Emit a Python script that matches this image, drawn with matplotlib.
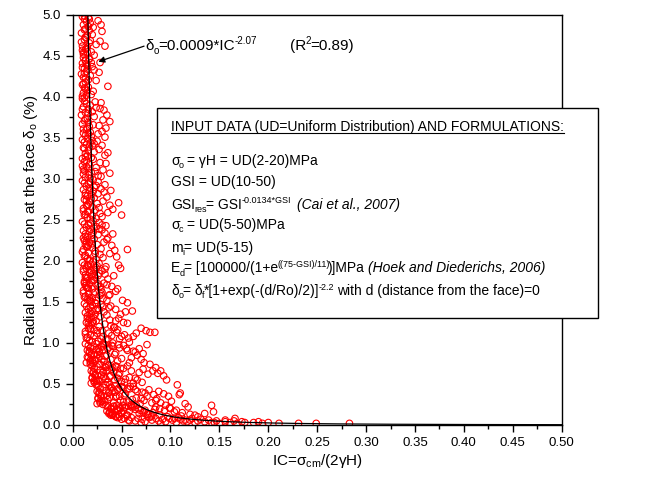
import numpy as np
import matplotlib
matplotlib.use('Agg')
import matplotlib.pyplot as plt
from matplotlib.patches import Rectangle
from matplotlib.lines import Line2D
from matplotlib.transforms import IdentityTransform

plt.rcParams['font.family'] = ['Liberation Sans', 'DejaVu Sans']
plt.rcParams['mathtext.fontset'] = 'custom'
plt.rcParams['mathtext.rm'] = 'Liberation Sans'
plt.rcParams['mathtext.it'] = 'Liberation Sans:italic'

# scatter points (IC, radial deformation %)
band_top = [(0.010,4.98),(0.012,4.95),(0.014,4.92),(0.011,4.88),(0.016,4.97),(0.013,4.83),(0.018,4.90),(0.009,4.78),(0.015,4.75),(0.021,4.85),(0.012,4.70),(0.017,4.66),(0.010,4.62),(0.026,4.93),(0.030,4.80),(0.013,4.58),(0.019,4.55),(0.011,4.52),(0.014,4.72),(0.024,4.64),(0.016,4.86),(0.010,4.57),(0.028,4.68),(0.012,4.99),(0.015,4.61),(0.020,4.76),(0.009,4.67),(0.013,4.73),(0.033,4.62),(0.017,4.81),(0.011,4.54),(0.022,4.51),(0.014,4.59),(0.029,4.88),(0.012,4.82),(0.018,4.69),(0.028,4.42),
            (0.011,4.48),(0.013,4.45),(0.010,4.41),(0.015,4.38),(0.012,4.35),(0.017,4.47),(0.014,4.31),(0.009,4.28),(0.019,4.42),(0.011,4.24),(0.016,4.21),(0.022,4.33),(0.013,4.18),(0.010,4.15),(0.012,4.11),(0.018,4.26),(0.015,4.08),(0.020,4.37),(0.011,4.05),(0.014,4.02),(0.036,4.13),(0.013,4.44),(0.024,4.20),(0.010,4.36),(0.016,4.12),(0.012,4.29),(0.019,4.03),(0.027,4.30),(0.014,4.40),(0.011,4.16),(0.021,4.07),(0.017,4.46),(0.013,4.23),(0.015,4.34),(0.010,4.01)]

band_upper = [(0.010,3.98),(0.012,3.95),(0.014,3.92),(0.011,3.88),(0.016,3.85),(0.013,3.81),(0.009,3.78),(0.018,3.90),(0.015,3.74),(0.012,3.71),(0.020,3.82),(0.010,3.67),(0.017,3.64),(0.014,3.60),(0.022,3.76),(0.011,3.56),(0.013,3.53),(0.016,3.69),(0.019,3.52),(0.024,3.87),(0.029,3.93),(0.032,3.84),(0.035,3.78),(0.031,3.72),(0.027,3.65),(0.034,3.62),(0.038,3.70),(0.030,3.58),(0.026,3.55),(0.033,3.51),(0.012,3.99),(0.015,3.62),(0.021,3.66),(0.010,3.85),(0.018,3.57),(0.013,3.73),(0.023,3.94),(0.011,3.61),(0.016,3.80),(0.028,3.86),
              (0.010,3.48),(0.012,3.45),(0.014,3.42),(0.011,3.38),(0.016,3.35),(0.013,3.31),(0.018,3.44),(0.015,3.28),(0.010,3.25),(0.020,3.40),(0.012,3.21),(0.017,3.18),(0.022,3.33),(0.014,3.15),(0.011,3.12),(0.019,3.08),(0.025,3.46),(0.016,3.05),(0.013,3.02),(0.027,3.36),(0.021,3.24),(0.030,3.41),(0.012,3.37),(0.024,3.14),(0.033,3.29),(0.015,3.49),(0.018,3.01),(0.028,3.20),(0.011,3.06),(0.036,3.32),(0.023,3.09),(0.014,3.22),(0.026,3.04),(0.017,3.39),(0.031,3.11),(0.010,3.16),(0.020,3.47),(0.013,3.27),(0.029,3.03),(0.016,3.13),(0.022,3.43),(0.038,3.07),(0.019,3.26),(0.034,3.19)]

band_mid = [(0.010,2.98),(0.012,2.95),(0.014,2.91),(0.011,2.87),(0.016,2.94),(0.013,2.83),(0.018,2.89),(0.015,2.79),(0.021,2.85),(0.012,2.75),(0.017,2.72),(0.024,2.92),(0.014,2.68),(0.019,2.81),(0.011,2.64),(0.026,2.97),(0.016,2.60),(0.022,2.77),(0.013,2.57),(0.029,2.88),(0.020,2.66),(0.015,2.53),(0.032,2.84),(0.018,2.51),(0.025,2.70),(0.012,2.56),(0.035,2.78),(0.023,2.62),(0.017,2.86),(0.028,2.58),(0.014,2.74),(0.038,2.68),(0.021,2.99),(0.030,2.54),(0.016,2.69),(0.026,2.82),(0.011,2.61),(0.033,2.93),(0.019,2.76),(0.024,2.52),(0.041,2.63),(0.013,2.80),(0.027,2.65),(0.018,2.96),(0.036,2.59),(0.022,2.90),(0.031,2.73),(0.015,2.67),(0.047,2.71),(0.050,2.56),(0.020,2.55),(0.039,2.86),
            (0.010,2.48),(0.012,2.45),(0.014,2.41),(0.011,2.37),(0.016,2.44),(0.013,2.33),(0.018,2.39),(0.015,2.29),(0.021,2.35),(0.012,2.25),(0.017,2.22),(0.024,2.42),(0.014,2.18),(0.019,2.31),(0.011,2.14),(0.027,2.47),(0.016,2.10),(0.022,2.27),(0.013,2.07),(0.030,2.38),(0.020,2.16),(0.015,2.03),(0.033,2.34),(0.018,2.01),(0.025,2.20),(0.012,2.06),(0.036,2.28),(0.023,2.12),(0.017,2.36),(0.028,2.08),(0.014,2.24),(0.040,2.19),(0.021,2.49),(0.031,2.04),(0.016,2.19),(0.026,2.32),(0.010,2.11),(0.034,2.43),(0.019,2.26),(0.024,2.02),(0.043,2.13),(0.013,2.30),(0.029,2.15),(0.018,2.46),(0.038,2.09),(0.022,2.40),(0.032,2.23),(0.015,2.17),(0.045,2.05),(0.056,2.14),(0.020,2.21),(0.027,2.39),(0.035,2.26),(0.011,2.28),(0.041,2.33),(0.023,2.09),(0.030,2.44),(0.017,2.00)]

band_knee = [(0.010,1.98),(0.012,1.95),(0.014,1.91),(0.011,1.87),(0.016,1.94),(0.013,1.83),(0.018,1.89),(0.015,1.79),(0.021,1.85),(0.012,1.75),(0.017,1.72),(0.024,1.92),(0.014,1.68),(0.019,1.81),(0.011,1.64),(0.027,1.97),(0.016,1.60),(0.022,1.77),(0.013,1.57),(0.030,1.88),(0.020,1.66),(0.015,1.53),(0.033,1.84),(0.018,1.51),(0.025,1.70),(0.012,1.56),(0.036,1.78),(0.023,1.62),(0.017,1.86),(0.028,1.58),(0.014,1.74),(0.040,1.69),(0.021,1.99),(0.031,1.54),(0.016,1.67),(0.026,1.82),(0.011,1.61),(0.034,1.93),(0.019,1.76),(0.024,1.52),(0.044,1.63),(0.013,1.80),(0.029,1.65),(0.018,1.96),(0.038,1.59),(0.022,1.90),(0.032,1.73),(0.015,1.67),(0.047,1.95),(0.049,1.91),(0.020,1.55),(0.027,1.85),(0.035,1.71),(0.012,1.73),(0.042,1.82),(0.023,1.89),(0.030,1.62),(0.017,1.52),(0.025,1.94),(0.037,1.58),(0.014,1.80),(0.046,1.66),(0.021,1.76),(0.033,1.90),(0.019,1.50),(0.028,1.69),
             (0.012,1.48),(0.014,1.45),(0.016,1.41),(0.013,1.37),(0.018,1.44),(0.015,1.33),(0.020,1.39),(0.017,1.29),(0.023,1.35),(0.014,1.25),(0.019,1.22),(0.026,1.42),(0.016,1.18),(0.021,1.31),(0.013,1.14),(0.029,1.47),(0.018,1.10),(0.024,1.27),(0.015,1.07),(0.032,1.38),(0.022,1.16),(0.017,1.03),(0.035,1.34),(0.020,1.01),(0.027,1.20),(0.014,1.06),(0.038,1.28),(0.025,1.12),(0.019,1.36),(0.031,1.08),(0.016,1.24),(0.042,1.19),(0.023,1.49),(0.034,1.04),(0.018,1.17),(0.028,1.32),(0.013,1.11),(0.037,1.43),(0.021,1.26),(0.026,1.02),(0.045,1.13),(0.015,1.30),(0.030,1.15),(0.020,1.46),(0.040,1.09),(0.024,1.40),(0.033,1.23),(0.017,1.21),(0.048,1.05),(0.051,1.52),(0.056,1.49),(0.054,1.38),(0.061,1.39),(0.056,1.24),(0.070,1.18),(0.075,1.15),(0.079,1.13),(0.065,1.12),(0.062,1.08),(0.057,1.06),(0.084,1.13),(0.044,1.27),(0.036,1.05),(0.049,1.35),(0.027,1.40),(0.039,1.21),(0.022,1.09),(0.046,1.16),(0.031,1.44),(0.053,1.10),(0.019,1.31),(0.041,1.00)]

band_low = [(0.013,0.99),(0.016,0.97),(0.018,0.94),(0.015,0.91),(0.021,0.96),(0.017,0.88),(0.024,0.92),(0.019,0.85),(0.027,0.89),(0.016,0.82),(0.022,0.80),(0.030,0.95),(0.018,0.77),(0.025,0.86),(0.014,0.76),(0.033,0.98),(0.020,0.79),(0.028,0.84),(0.017,0.90),(0.036,0.93),(0.026,0.81),(0.019,0.87),(0.040,0.97),(0.023,0.78),(0.031,0.92),(0.015,0.83),(0.044,0.88),(0.029,0.96),(0.021,0.75),(0.035,0.85),(0.018,0.79),(0.048,0.94),(0.027,0.90),(0.039,0.80),(0.052,0.97),(0.032,0.77),(0.056,0.91),(0.043,0.86),(0.024,0.99),(0.060,0.82),(0.037,0.95),(0.064,0.89),(0.046,0.78),(0.068,0.93),(0.033,0.84),(0.072,0.87),(0.050,0.81),(0.041,0.96),(0.058,0.76),(0.076,0.98),
            (0.018,0.74),(0.020,0.72),(0.022,0.69),(0.019,0.66),(0.025,0.71),(0.021,0.63),(0.028,0.67),(0.023,0.60),(0.031,0.64),(0.020,0.57),(0.026,0.55),(0.034,0.70),(0.022,0.52),(0.029,0.61),(0.019,0.51),(0.037,0.73),(0.024,0.54),(0.032,0.59),(0.021,0.65),(0.040,0.68),(0.030,0.56),(0.023,0.62),(0.044,0.72),(0.027,0.53),(0.035,0.67),(0.020,0.58),(0.048,0.63),(0.033,0.71),(0.025,0.50),(0.039,0.60),(0.022,0.54),(0.052,0.69),(0.031,0.65),(0.043,0.55),(0.056,0.72),(0.036,0.52),(0.060,0.66),(0.047,0.61),(0.028,0.74),(0.064,0.57),(0.041,0.70),(0.068,0.64),(0.050,0.53),(0.072,0.68),(0.038,0.59),(0.077,0.62),(0.054,0.56),(0.045,0.71),(0.062,0.51),(0.082,0.66),(0.058,0.58),(0.087,0.63),(0.066,0.55),(0.093,0.60),(0.049,0.69),(0.071,0.52)]

band_floor = [(0.024,0.49),(0.026,0.47),(0.028,0.44),(0.025,0.41),(0.031,0.46),(0.027,0.38),(0.034,0.42),(0.029,0.35),(0.037,0.39),(0.026,0.32),(0.032,0.30),(0.040,0.45),(0.028,0.27),(0.035,0.36),(0.025,0.26),(0.043,0.48),(0.030,0.29),(0.038,0.34),(0.027,0.40),(0.046,0.43),(0.036,0.31),(0.029,0.37),(0.050,0.47),(0.033,0.28),(0.041,0.42),(0.026,0.33),(0.054,0.38),(0.039,0.46),(0.031,0.25),(0.045,0.35),(0.028,0.29),(0.058,0.44),(0.037,0.40),(0.049,0.30),(0.062,0.47),(0.042,0.27),(0.066,0.41),(0.053,0.36),(0.034,0.49),(0.070,0.32),(0.047,0.45),(0.074,0.39),(0.057,0.28),(0.078,0.43),(0.044,0.34),(0.083,0.37),(0.061,0.31),(0.051,0.46),(0.069,0.26),(0.088,0.41),(0.065,0.33),(0.093,0.38),(0.073,0.30),(0.098,0.35),(0.056,0.44),(0.081,0.27),(0.096,0.55),(0.107,0.49),(0.109,0.37),(0.110,0.39),(0.086,0.32),(0.101,0.29),
              (0.034,0.24),(0.036,0.22),(0.039,0.20),(0.035,0.17),(0.042,0.23),(0.038,0.15),(0.045,0.19),(0.040,0.13),(0.048,0.21),(0.041,0.12),(0.043,0.16),(0.051,0.24),(0.039,0.12),(0.046,0.18),(0.044,0.10),(0.054,0.22),(0.041,0.14),(0.049,0.20),(0.038,0.16),(0.057,0.23),(0.047,0.13),(0.040,0.19),(0.061,0.21),(0.044,0.11),(0.052,0.17),(0.037,0.14),(0.065,0.24),(0.050,0.15),(0.042,0.22),(0.056,0.12),(0.039,0.20),(0.069,0.18),(0.048,0.10),(0.060,0.23),(0.073,0.16),(0.053,0.21),(0.077,0.13),(0.064,0.19),(0.045,0.24),(0.081,0.11),(0.058,0.17),(0.085,0.22),(0.068,0.14),(0.089,0.20),(0.055,0.12),(0.094,0.18),(0.072,0.15),(0.062,0.23),(0.080,0.10),(0.099,0.21),(0.076,0.13),(0.104,0.16),(0.084,0.19),(0.111,0.11),(0.115,0.26),(0.118,0.22),(0.125,0.12),(0.135,0.14),(0.142,0.24),(0.144,0.16)]

band_tail = [(0.046,0.09),(0.050,0.07),(0.053,0.08),(0.057,0.06),(0.060,0.09),(0.064,0.05),(0.067,0.08),(0.071,0.07),(0.074,0.04),(0.078,0.09),(0.081,0.06),(0.085,0.08),(0.088,0.05),(0.092,0.07),(0.095,0.04),(0.099,0.08),(0.102,0.06),(0.106,0.03),(0.110,0.07),(0.113,0.05),(0.117,0.04),(0.120,0.06),(0.125,0.03),(0.128,0.05),(0.131,0.07),(0.135,0.04),(0.139,0.06),(0.142,0.03),(0.147,0.05),(0.150,0.02),(0.156,0.04),(0.161,0.03),(0.165,0.05),(0.168,0.02),(0.173,0.04),(0.176,0.03),(0.185,0.03),(0.190,0.04),(0.194,0.02),(0.200,0.03),(0.211,0.02),(0.231,0.02),(0.249,0.02),(0.283,0.02),(0.058,0.05),(0.070,0.03),(0.090,0.02),(0.108,0.09),(0.122,0.08),(0.145,0.03),(0.166,0.08),(0.156,0.06)]

band_fill = [(0.015,1.95),(0.019,1.88),(0.023,1.80),(0.013,1.70),(0.026,1.72),(0.021,1.61),(0.017,1.55),(0.029,1.60),(0.024,1.48),(0.035,1.52),(0.039,1.45),(0.044,1.41),(0.047,1.30),(0.052,1.25),(0.043,1.19),(0.037,1.12),(0.050,1.08),(0.058,1.01),(0.031,0.99),(0.047,0.98),(0.055,0.93),(0.062,0.90),(0.066,0.85),(0.070,0.80),(0.073,0.76),(0.079,0.74),(0.085,0.70),(0.090,0.66),(0.026,0.93),(0.022,0.86),(0.030,0.80),(0.034,0.73),(0.042,0.64),(0.046,0.57),(0.053,0.52),(0.059,0.47),(0.064,0.43),(0.071,0.40),(0.076,0.35),(0.085,0.30),(0.090,0.27),(0.095,0.24),(0.100,0.20),(0.106,0.18),(0.112,0.15),(0.120,0.13),(0.128,0.10),(0.034,0.56),(0.038,0.49),(0.043,0.40),(0.048,0.35),(0.052,0.28),(0.060,0.25),(0.067,0.20),(0.074,0.18),(0.082,0.15),(0.089,0.12),(0.097,0.10),(0.104,0.08),(0.115,0.06),(0.020,1.25),(0.025,1.15),(0.029,1.05),(0.017,1.35),(0.011,1.90),(0.013,2.20),(0.015,2.60),(0.012,3.10),(0.016,3.55),(0.013,4.10),(0.015,4.55),(0.017,4.95)]

# fitted power law shown on the chart
fit_a = 0.0009
fit_b = -2.07

# text box lines: (text, style) pieces, style '' normal, 'sub', 'sup', 'it'
box_header = 'INPUT DATA (UD=Uniform Distribution) AND FORMULATIONS:'
box_lines = [
    [('σ', ''), ('o', 'sub'), (' = γH = UD(2-20)MPa', '')],
    [('GSI = UD(10-50)', '')],
    [('GSI', ''), ('res', 'sub'), ('= GSI', ''), ('-0.0134*GSI', 'sup'), (' ', ''), ('(Cai et al., 2007)', 'it')],
    [('σ', ''), ('c', 'sub'), (' = UD(5-50)MPa', '')],
    [('m', ''), ('i', 'sub'), ('= UD(5-15)', '')],
    [('E', ''), ('d', 'sub'), ('= [100000/(1+e', ''), ('((75-GSI)/11)', 'sup'), (')]MPa ', ''), ('(Hoek and Diederichs, 2006)', 'it')],
    [('δ', ''), ('o', 'sub'), ('= δ', ''), ('f', 'sub'), ('*[1+exp(-(d/Ro)/2)]', ''), ('-2.2', 'sup'), (' with d (distance from the face)=0', '')],
]
fit_label = [('δ', ''), ('o', 'sub'), ('=0.0009*IC', ''), ('-2.07', 'sup')]
r2_label = [('(R', ''), ('2', 'sup'), ('=0.89)', '')]

pts = np.array(band_top + band_upper + band_mid + band_knee + band_low + band_floor + band_tail + band_fill)

fig = plt.figure(figsize=(6.5, 4.8), dpi=100)
ax = fig.add_axes([0.1118, 0.1146, 0.7523, 0.8542])
renderer = fig.canvas.get_renderer()


def text_w(s, fs, style):
    t = fig.text(0, 0, s, fontsize=fs, style=style)
    w = t.get_window_extent(renderer).width
    t.remove()
    return w


def rich(x, y, pieces, fs, zorder=6):
    # x, y in axes fraction, y is the baseline; pieces laid out left to right in pixels
    px, py = ax.transAxes.transform((x, y))
    for s, kind in pieces:
        small = kind in ('sub', 'sup')
        size = fs * 0.65 if small else fs
        style = 'italic' if kind == 'it' else 'normal'
        dy = {'sub': -0.22 * fs, 'sup': 0.42 * fs}.get(kind, 0) * fig.dpi / 72
        sp_w = text_w('x x', size, style) - text_w('xx', size, style)
        core = s.strip(' ')
        lead = len(s) - len(s.lstrip(' '))
        trail = len(s) - len(s.rstrip(' '))
        px += lead * sp_w
        if core:
            fig.text(px, py + dy, core, fontsize=size, style=style, va='baseline', ha='left',
                     transform=IdentityTransform(), zorder=zorder)
            trim = 0.5 + (0.15 * len(core) if kind == 'sup' else 0)
            px += text_w(core, size, style) - trim
        px += trail * sp_w


ax.scatter(pts[:, 0], pts[:, 1], s=22, facecolors='none', edgecolors='#ff0000', linewidths=0.8, zorder=2)

xc = np.linspace(0.008, 0.5, 600)
ax.plot(xc, fit_a * xc ** fit_b, color='black', lw=0.9, zorder=3)

ax.set_xlim(0, 0.5)
ax.set_ylim(0, 5)
ax.set_xticks(np.arange(0, 0.501, 0.05))
ax.set_yticks(np.arange(0, 5.01, 0.5))
ax.set_xticks(np.arange(0.025, 0.5, 0.05), minor=True)
ax.set_yticks(np.arange(0.25, 5, 0.5), minor=True)
ax.xaxis.set_major_formatter(matplotlib.ticker.FormatStrFormatter('%.2f'))
ax.yaxis.set_major_formatter(matplotlib.ticker.FormatStrFormatter('%.1f'))
ax.tick_params(which='major', direction='out', length=5, width=1, labelsize=9.5, top=False, right=False)
ax.tick_params(which='minor', direction='out', length=3, width=1, top=False, right=False)
for sp in ax.spines.values():
    sp.set_linewidth(1.0)

ax.set_xlabel('IC=σ$_{\\rm cm}$/(2γH)', fontsize=11, labelpad=2)
ax.set_ylabel('Radial deformation at the face δ$_{\\rm o}$ (%)', fontsize=11, labelpad=2)

# fit equation with arrow to the curve
ax.annotate('', xy=(0.0262, 4.43), xytext=(0.073, 4.62),
            arrowprops=dict(arrowstyle='-|>', color='black', lw=0.9, mutation_scale=9, shrinkA=0, shrinkB=0))
rich(0.149, 0.914, fit_label, 11, zorder=4)
rich(0.444, 0.914, r2_label, 11, zorder=4)

# input data box (drawn above the right spine, like the original)
ax.add_patch(Rectangle((0.172, 0.261), 0.902, 0.512, transform=ax.transAxes, facecolor='white',
                       edgecolor='black', lw=1.0, clip_on=False, zorder=5))
hdr = ax.text(0.201, 0.718, box_header, transform=ax.transAxes, fontsize=10, va='baseline',
              zorder=6, clip_on=False)
line_y = [0.635, 0.582, 0.528, 0.477, 0.423, 0.372, 0.316]
for yy, pieces in zip(line_y, box_lines):
    rich(0.201, yy, pieces, 10)

bb = hdr.get_window_extent(renderer).transformed(fig.transFigure.inverted())
uy = ax.transAxes.transform((0, 0.718))[1] / fig.bbox.height - 0.005
fig.add_artist(Line2D([bb.x0, bb.x1], [uy, uy], color='black', lw=0.8,
                      transform=fig.transFigure, zorder=7))

fig.savefig('out.png', dpi=100)
